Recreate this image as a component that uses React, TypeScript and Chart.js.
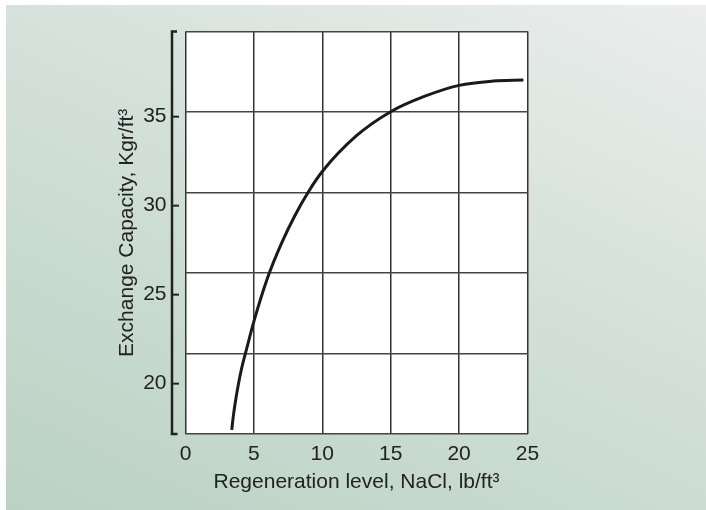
import React, { useEffect, useRef } from "react";
import { Chart, registerables } from "chart.js";

Chart.register(...registerables);

// Regeneration level, NaCl (lb/ft³)
const regenLevel = [3.38, 3.5, 3.65, 3.85, 4.1, 4.5, 5.0, 6.0, 7.0, 8.0, 9.0, 10.0, 12.5, 15.0, 17.5, 20.0, 22.5, 24.7];
// Exchange capacity (Kgr/ft³)
const capacity = [17.4, 18.2, 19.0, 19.9, 20.85, 22.05, 23.5, 25.95, 27.85, 29.45, 30.8, 31.92, 33.93, 35.28, 36.15, 36.76, 37.0, 37.06];

const xTicks = [0, 5, 10, 15, 20, 25];
const yTicks = [20, 25, 30, 35];
const yMin = 17.17;
const yMax = 39.78;
const gridRows = 5;

const xTitle = "Regeneration level, NaCl, lb/ft³";
const yTitle = "Exchange Capacity, Kgr/ft³";

const FONT = "'Liberation Sans', Arial, sans-serif";
const INK = "#222";

const whiteArea = {
  id: "whiteArea",
  beforeDraw(chart: any) {
    const { ctx, chartArea: a } = chart;
    ctx.save();
    ctx.fillStyle = "#ffffff";
    ctx.fillRect(a.left, a.top, a.right - a.left, a.bottom - a.top);
    ctx.restore();
  },
};

const bracket = {
  id: "bracket",
  afterDraw(chart: any) {
    const { ctx, chartArea: a } = chart;
    const ys = chart.scales.y;
    const bx = a.left - 13.5;
    ctx.save();
    ctx.strokeStyle = INK;
    ctx.lineWidth = 2.5;
    ctx.lineCap = "butt";
    ctx.beginPath();
    ctx.moveTo(bx + 5, a.top);
    ctx.lineTo(bx, a.top);
    ctx.lineTo(bx, a.bottom);
    ctx.lineTo(bx + 5.5, a.bottom);
    ctx.stroke();
    ctx.lineWidth = 2;
    for (const v of yTicks) {
      const py = ys.getPixelForValue(v);
      ctx.beginPath();
      ctx.moveTo(bx, py);
      ctx.lineTo(bx + 7, py);
      ctx.stroke();
    }
    ctx.restore();
  },
};

export default function App() {
  const ref = useRef<HTMLCanvasElement | null>(null);

  useEffect(() => {
    if (!ref.current) return;
    const chart = new Chart(ref.current, {
      type: "line",
      data: {
        datasets: [
          {
            data: regenLevel.map((x, i) => ({ x, y: capacity[i] })),
            borderColor: "#1a1a1a",
            borderWidth: 3,
            pointRadius: 0,
            fill: false,
            cubicInterpolationMode: "monotone",
            xAxisID: "x",
            yAxisID: "y",
          },
        ],
      },
      options: {
        responsive: false,
        animation: false,
        devicePixelRatio: 1,
        layout: { padding: { left: 100, top: 27, right: 178.5, bottom: 15 } },
        plugins: { legend: { display: false }, tooltip: { enabled: false } },
        scales: {
          x: {
            type: "linear",
            min: 0,
            max: 25,
            afterBuildTicks: (s: any) => {
              s.ticks = xTicks.map((v) => ({ value: v }));
            },
            afterFit: (s: any) => {
              s.height = 61;
            },
            ticks: {
              padding: 8,
              color: INK,
              font: { family: FONT, size: 21 },
            },
            grid: { color: "#333", lineWidth: 1.5, drawTicks: false },
            border: { display: false },
            title: {
              display: true,
              text: xTitle,
              color: INK,
              font: { family: FONT, size: 21 },
              padding: { top: 3, bottom: 0 },
            },
          },
          y: {
            type: "linear",
            position: "left",
            min: yMin,
            max: yMax,
            afterBuildTicks: (s: any) => {
              s.ticks = yTicks.map((v) => ({ value: v }));
            },
            afterFit: (s: any) => {
              s.width = 85.5;
            },
            ticks: {
              padding: 19,
              color: INK,
              font: { family: FONT, size: 21 },
            },
            grid: { display: false, drawTicks: false },
            border: { display: false },
            title: {
              display: true,
              text: yTitle,
              color: INK,
              font: { family: FONT, size: 21 },
              padding: { top: 15, bottom: 0 },
            },
          },
          yg: {
            type: "linear",
            position: "right",
            min: 0,
            max: gridRows,
            ticks: { display: false, stepSize: 1 },
            afterFit: (s: any) => {
              s.width = 0;
            },
            grid: { color: "#444", lineWidth: 1.5, drawTicks: false },
            border: { display: false },
          },
        },
      },
      plugins: [whiteArea, bracket],
    } as any);
    return () => chart.destroy();
  }, []);

  return (
    <div style={{ position: "fixed", left: 0, top: 0, width: 706, height: 510, background: "#ffffff", overflow: "hidden" }}>
      <div
        style={{
          position: "absolute",
          left: 6,
          top: 5,
          right: 0,
          bottom: 0,
          background: "linear-gradient(205deg, #ebeeed 0%, #d3e0d9 45%, #bad2c3 100%)",
        }}
      />
      <canvas ref={ref} width={706} height={510} style={{ position: "absolute", left: 0, top: 0, width: 706, height: 510 }} />
    </div>
  );
}
